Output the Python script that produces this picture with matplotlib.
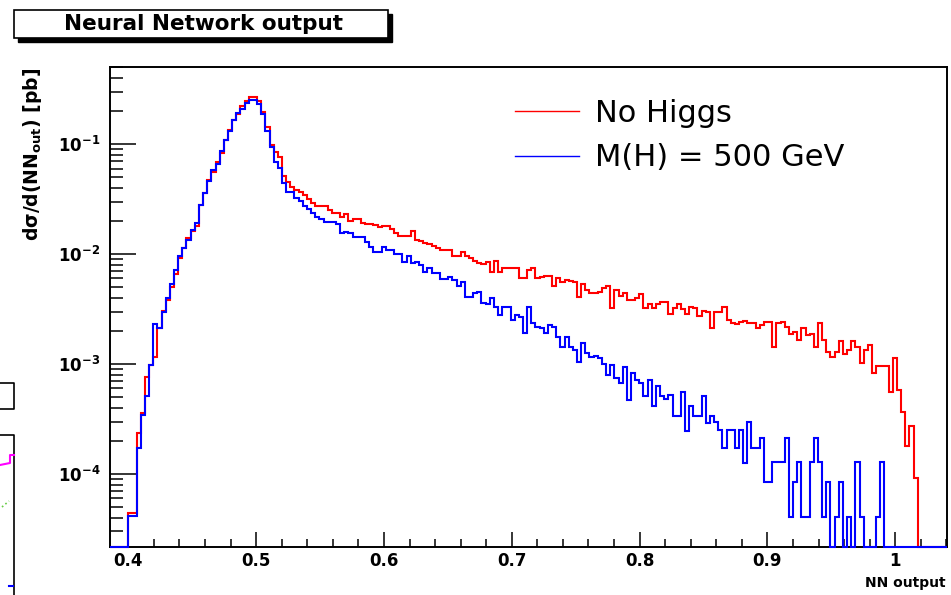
"""
Neural network output distribution: No Higgs vs M(H) = 500 GeV (ROOT style)
"""
import numpy as np
import matplotlib.pyplot as plt
from matplotlib.patches import Rectangle
from matplotlib.lines import Line2D
from matplotlib.ticker import FuncFormatter, LogLocator, NullFormatter

plt.rcParams['font.family'] = ['DejaVu Sans']
plt.rcParams['mathtext.fontset'] = 'dejavusans'

# histogram binning and frame range
bin_lo = 0.4
bin_width = 0.00325
x_range = (0.3857, 1.0402)
y_range = (2.18e-5, 0.50)

# d sigma / d(NN_out) [pb], one value per bin starting at bin_lo
sigma_no_higgs = [
    4.45e-5, 4.45e-5, 2.36e-4, 3.61e-4, 7.66e-4, 9.8e-4, 1.16e-3, 2.11e-3, 3.03e-3, 3.82e-3,
    5.05e-3, 6.58e-3, 9.18e-3, 1.13e-2, 1.40e-2, 1.62e-2, 1.80e-2, 2.79e-2, 3.56e-2, 4.71e-2,
    5.56e-2, 6.86e-2, 8.28e-2, 0.109, 0.134, 0.165, 0.187, 0.222, 0.246, 0.266,
    0.266, 0.246, 0.197, 0.144, 9.8e-2, 8.46e-2, 7.66e-2, 5.12e-2, 4.51e-2, 4.07e-2,
    3.82e-2, 3.66e-2, 3.44e-2, 3.16e-2, 2.91e-2, 2.73e-2, 2.73e-2, 2.73e-2, 2.51e-2, 2.34e-2,
    2.34e-2, 2.18e-2, 2.31e-2, 2.00e-2, 2.07e-2, 2.07e-2, 1.91e-2, 1.87e-2, 1.87e-2, 1.84e-2,
    1.75e-2, 1.80e-2, 1.80e-2, 1.69e-2, 1.55e-2, 1.46e-2, 1.46e-2, 1.46e-2, 1.61e-2, 1.34e-2,
    1.31e-2, 1.26e-2, 1.23e-2, 1.19e-2, 1.13e-2, 1.10e-2, 1.09e-2, 1.09e-2, 9.59e-3, 9.59e-3,
    1.05e-2, 9.59e-3, 9.14e-3, 8.69e-3, 8.23e-3, 8.11e-3, 8.46e-3, 6.91e-3, 8.69e-3, 6.91e-3,
    7.41e-3, 7.41e-3, 7.41e-3, 7.41e-3, 6.01e-3, 6.01e-3, 7.16e-3, 7.41e-3, 6.01e-3, 6.22e-3,
    6.31e-3, 6.31e-3, 5.12e-3, 6.01e-3, 5.60e-3, 5.80e-3, 5.67e-3, 5.57e-3, 4.09e-3, 5.34e-3,
    4.71e-3, 4.39e-3, 4.42e-3, 4.54e-3, 4.88e-3, 5.12e-3, 3.21e-3, 4.71e-3, 4.15e-3, 4.45e-3,
    3.82e-3, 3.82e-3, 3.95e-3, 4.33e-3, 3.21e-3, 3.51e-3, 3.21e-3, 3.51e-3, 3.66e-3, 3.66e-3,
    2.85e-3, 3.21e-3, 3.51e-3, 3.16e-3, 2.85e-3, 3.32e-3, 3.21e-3, 2.73e-3, 3.05e-3, 2.99e-3,
    2.11e-3, 2.99e-3, 2.99e-3, 3.32e-3, 2.51e-3, 2.37e-3, 2.31e-3, 2.42e-3, 2.48e-3, 2.37e-3,
    2.37e-3, 2.11e-3, 2.26e-3, 2.42e-3, 2.42e-3, 1.44e-3, 2.34e-3, 2.42e-3, 2.18e-3, 1.87e-3,
    1.97e-3, 1.65e-3, 2.11e-3, 1.84e-3, 1.87e-3, 1.44e-3, 2.38e-3, 1.65e-3, 1.29e-3, 1.16e-3,
    1.29e-3, 1.63e-3, 1.23e-3, 1.34e-3, 1.63e-3, 1.42e-3, 1.03e-3, 1.34e-3, 1.49e-3, 8.34e-4,
    9.6e-4, 9.6e-4, 9.6e-4, 5.6e-4, 1.13e-3, 5.8e-4, 3.68e-4, 1.8e-4, 2.73e-4, 9.14e-5,
]

sigma_mh500 = [
    4.15e-5, 4.15e-5, 1.71e-4, 3.44e-4, 5.12e-4, 9.8e-4, 2.30e-3, 2.11e-3, 2.99e-3, 3.95e-3,
    5.34e-3, 7.16e-3, 9.65e-3, 1.13e-2, 1.34e-2, 1.65e-2, 1.93e-2, 2.79e-2, 3.56e-2, 4.64e-2,
    5.8e-2, 6.58e-2, 8.69e-2, 0.109, 0.132, 0.165, 0.190, 0.207, 0.237, 0.251,
    0.251, 0.234, 0.187, 0.132, 9.33e-2, 6.9e-2, 6.01e-2, 4.39e-2, 3.68e-2, 3.68e-2,
    3.21e-2, 3.05e-2, 2.73e-2, 2.55e-2, 2.34e-2, 2.18e-2, 2.07e-2, 1.97e-2, 1.97e-2, 1.97e-2,
    1.87e-2, 1.54e-2, 1.60e-2, 1.55e-2, 1.44e-2, 1.42e-2, 1.42e-2, 1.29e-2, 1.16e-2, 1.05e-2,
    1.05e-2, 1.16e-2, 1.09e-2, 1.09e-2, 1.00e-2, 1.00e-2, 8.51e-3, 9.59e-3, 8.23e-3, 8.51e-3,
    7.94e-3, 6.91e-3, 7.41e-3, 6.77e-3, 6.77e-3, 5.89e-3, 5.89e-3, 6.18e-3, 5.80e-3, 5.12e-3,
    5.60e-3, 4.09e-3, 4.09e-3, 4.42e-3, 4.54e-3, 3.61e-3, 3.51e-3, 3.95e-3, 3.32e-3, 2.79e-3,
    3.32e-3, 3.32e-3, 2.51e-3, 2.79e-3, 2.69e-3, 1.90e-3, 3.32e-3, 2.34e-3, 2.18e-3, 2.11e-3,
    1.90e-3, 2.26e-3, 2.18e-3, 1.77e-3, 1.44e-3, 1.77e-3, 1.44e-3, 1.34e-3, 1.05e-3, 1.56e-3,
    1.25e-3, 1.15e-3, 1.18e-3, 1.13e-3, 1.01e-3, 7.94e-4, 9.8e-4, 7.46e-4, 6.76e-4, 9.45e-4,
    4.71e-4, 8.34e-4, 7.15e-4, 6.71e-4, 5.12e-4, 7.15e-4, 4.15e-4, 6.31e-4, 5.12e-4, 4.78e-4,
    5.22e-4, 3.37e-4, 3.37e-4, 5.60e-4, 2.48e-4, 4.18e-4, 3.37e-4, 3.37e-4, 5.12e-4, 2.93e-4,
    3.37e-4, 2.99e-4, 2.51e-4, 1.71e-4, 2.51e-4, 2.51e-4, 1.71e-4, 2.51e-4, 1.27e-4, 2.99e-4,
    1.71e-4, 1.71e-4, 2.11e-4, 8.5e-5, 8.5e-5, 1.29e-4, 1.29e-4, 1.29e-4, 2.11e-4, 4.1e-5,
    8.5e-5, 1.29e-4, 4.1e-5, 4.1e-5, 1.29e-4, 2.11e-4, 1.29e-4, 4.1e-5, 8.5e-5, 0,
    4.1e-5, 8.5e-5, 0, 4.1e-5, 0, 1.29e-4, 4.1e-5, 0, 0, 0,
    4.1e-5, 1.29e-4, 0, 0, 0, 0, 0, 0, 0, 0,
]

series_values = [sigma_no_higgs, sigma_mh500]
series_labels = ['No Higgs', 'M(H) = 500 GeV']
series_colors = ['#ff0000', '#0000ff']

x_ticks = [0.4, 0.5, 0.6, 0.7, 0.8, 0.9, 1.0]
x_tick_labels = ['0.4', '0.5', '0.6', '0.7', '0.8', '0.9', '1']
x_minor_ticks = [0.42, 0.44, 0.46, 0.48, 0.52, 0.54, 0.56, 0.58, 0.62, 0.64, 0.66, 0.68,
                 0.72, 0.74, 0.76, 0.78, 0.82, 0.84, 0.86, 0.88, 0.92, 0.94, 0.96, 0.98,
                 1.02, 1.04]
y_ticks = [1e-4, 1e-3, 1e-2, 1e-1]

W, H = 951, 595


def fx(px):
    return px / W


def fy(py):
    return 1 - py / H


def histogram_outline(values):
    """Bin edges and values padded with empty bins out to the frame, floor at ymin."""
    vals = np.asarray(values, dtype=float)
    edges = bin_lo + bin_width * np.arange(len(vals) + 1)
    edges = np.concatenate([[x_range[0]], edges, [x_range[1]]])
    vals = np.concatenate([[0.0], vals, [0.0]])
    return edges, np.maximum(vals, y_range[0])


fig = plt.figure(figsize=(W / 100, H / 100), dpi=100)
ax = fig.add_axes([fx(110), fy(546.7), fx(946.7) - fx(110), fy(67.3) - fy(546.7)])

for vals, color in zip(series_values, series_colors):
    edges, v = histogram_outline(vals)
    ax.stairs(v, edges, baseline=None, color=color, linewidth=1.5, clip_on=False, zorder=3)

ax.set_yscale('log')
ax.set_xlim(x_range)
ax.set_ylim(y_range)

# axes / ticks in ROOT fashion
for s in ax.spines.values():
    s.set_linewidth(1.4)
ax.set_xticks(x_ticks, x_tick_labels)
ax.set_xticks(x_minor_ticks, minor=True)
ax.set_yticks(y_ticks)
ax.yaxis.set_minor_locator(LogLocator(base=10, subs=np.arange(2, 10)))
ax.yaxis.set_minor_formatter(NullFormatter())
ax.yaxis.set_major_formatter(FuncFormatter(lambda v, _: r'$\mathbf{10^{%d}}$' % round(np.log10(v))))

ax.tick_params(axis='y', which='major', direction='in', length=18.7, width=1.1, pad=7,
               left=True, right=False, labelsize=12)
ax.tick_params(axis='y', which='minor', direction='in', length=9.4, width=1.1,
               left=True, right=False)
ax.tick_params(axis='x', which='major', direction='in', length=10.8, width=1.1, pad=4,
               bottom=True, top=False, labelsize=12)
ax.tick_params(axis='x', which='minor', direction='in', length=5.8, width=1.1,
               bottom=True, top=False)
for lab in ax.get_xticklabels():
    lab.set_fontweight('bold')

# legend (no border)
handles = [Line2D([], [], color=c, linewidth=1.0) for c in series_colors]
ax.legend(handles, series_labels, loc='upper left', bbox_to_anchor=(fx(515), fy(99)),
          bbox_transform=fig.transFigure, frameon=False, fontsize=22,
          handlelength=2.1, handletextpad=0.52, labelspacing=0.5,
          borderpad=0, borderaxespad=0)

# axis titles
fig.text(fx(946), fy(583), 'NN output', ha='right', va='center',
         fontweight='bold', fontsize=10)
fig.text(fx(33), fy(68), r'dσ/d(NN$_{\mathbf{out}}$) [pb]', rotation=90,
         ha='center', va='top', fontweight='bold', fontsize=13.5)

# title pave with shadow
fig.add_artist(Rectangle((fx(18), fy(42)), fx(392) - fx(18), fy(14) - fy(42),
                         transform=fig.transFigure, facecolor='black', edgecolor='black'))
fig.add_artist(Rectangle((fx(14), fy(38)), fx(388) - fx(14), fy(10) - fy(38),
                         transform=fig.transFigure, facecolor='white', edgecolor='black',
                         linewidth=1.2))
fig.text(fx(204), fy(24.5), 'Neural Network output', ha='center', va='center',
         fontweight='bold', fontsize=15.5)

# bits of the neighbouring pad cut off at the left edge
fig.add_artist(Line2D([0, fx(14), fx(14), 0], [fy(383), fy(383), fy(409), fy(409)],
                      transform=fig.transFigure, color='black', linewidth=1.2))
fig.add_artist(Line2D([0, fx(14), fx(14)], [fy(435), fy(435), 0],
                      transform=fig.transFigure, color='black', linewidth=1.2))
fig.add_artist(Line2D([0, fx(10), fx(10), fx(14)], [fy(465), fy(463), fy(455), fy(455)],
                      transform=fig.transFigure, color='#ff00ff', linewidth=1.5))
fig.add_artist(Line2D([fx(2), fx(9)], [fy(507), fy(501)], transform=fig.transFigure,
                      color='#66cc44', linewidth=1.2, linestyle=':'))
fig.add_artist(Line2D([fx(9), fx(13)], [fy(586), fy(586)], transform=fig.transFigure,
                      color='#0000ff', linewidth=1.5))

fig.savefig('out.png', dpi=100)
